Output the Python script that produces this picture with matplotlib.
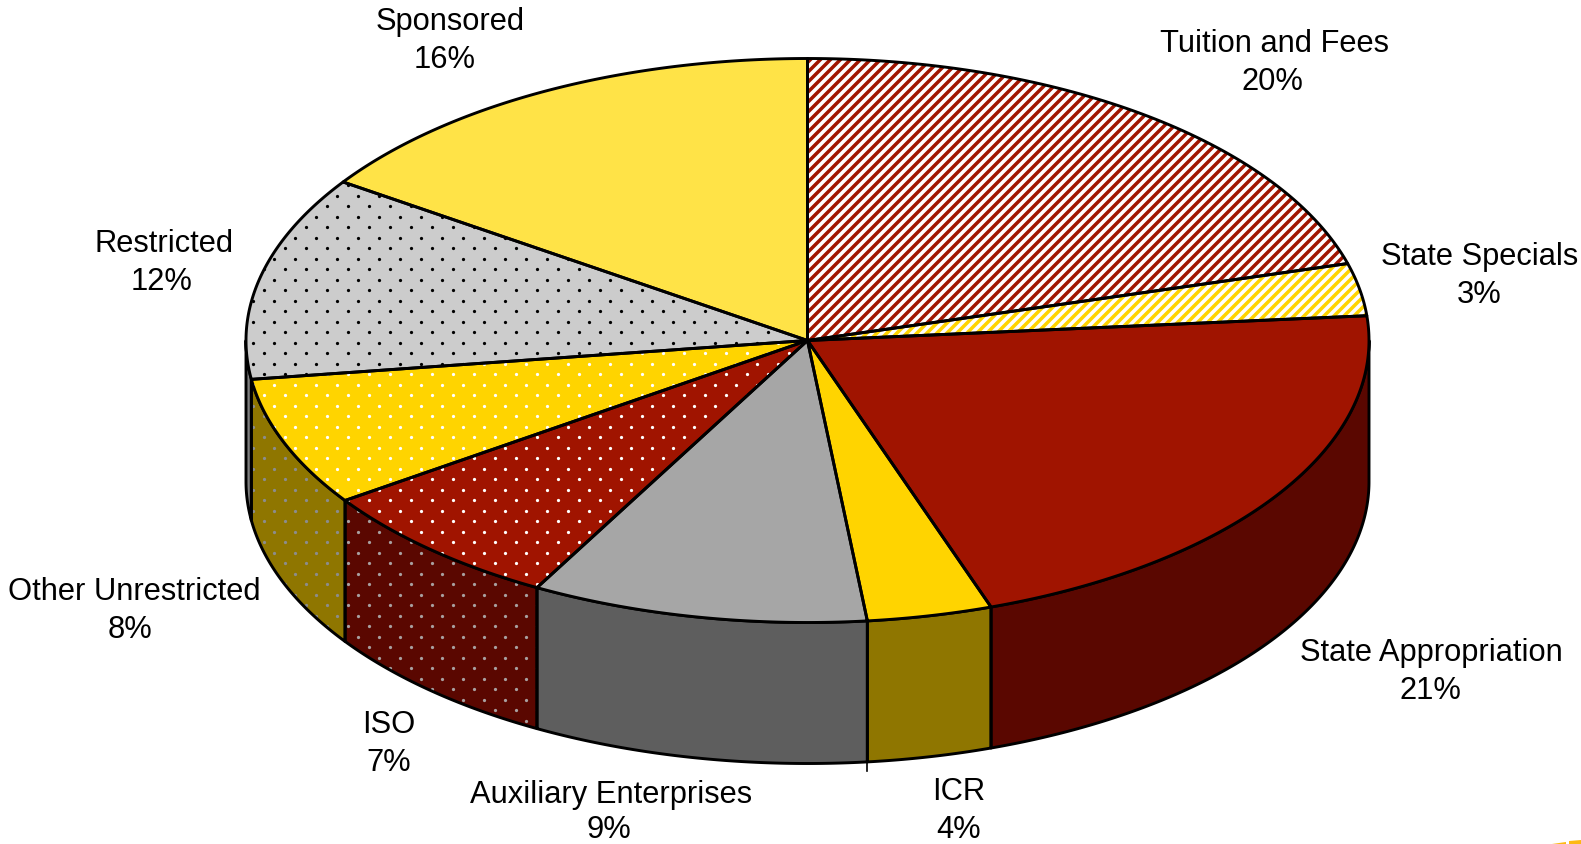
import matplotlib
matplotlib.use('Agg')
import matplotlib.pyplot as plt
import numpy as np
from matplotlib.patches import Polygon

# Slice data, clockwise from 12 o'clock
labels = ['Tuition and Fees', 'State Specials', 'State Appropriation', 'ICR',
          'Auxiliary Enterprises', 'ISO', 'Other Unrestricted', 'Restricted', 'Sponsored']
pct_labels = ['20%', '3%', '21%', '4%', '9%', '7%', '8%', '12%', '16%']
# shares as they are actually drawn in the picture
shares = [20.6, 3.0, 21.1, 3.6, 9.7, 7.4, 7.4, 11.7, 15.5]

top_colors = ['#A01400', '#FFD400', '#A01400', '#FFD400', '#A6A6A6',
              '#A01400', '#FFD400', '#CCCCCC', '#FFE347']
wall_colors = ['#5A0700', '#8F7600', '#5A0700', '#8F7600', '#5E5E5E',
               '#5A0700', '#8F7600', '#808080', '#8F7F28']
textures = ['stripes', 'stripes', None, None, None, 'dots', 'dots', 'dots', None]
dot_colors = [None, None, None, None, None, 'white', 'white', 'black', None]
wall_dot_colors = [None, None, None, None, None, '#A8A0A0', '#8C8C8C', '#202020', None]

# Label positions in pixels (line centres)
label_x = [1275, 1480, 1431, 959, 611, 389, 134, 164, 450]
label_y = [44, 257, 653, 792, 795, 725, 592, 244, 22]
pct_x = [1272, 1479, 1430, 959, 609, 389, 130, 162, 445]
pct_y = [82, 295, 691, 830, 830, 763, 630, 282, 60]

W, H = 1581, 844
DPI = 120
cx, cy, rx, ry = 807.5, 340.5, 561.5, 282
depth = 141
outline = 1.75

plt.rcParams['font.family'] = ['Liberation Sans', 'DejaVu Sans']
plt.rcParams['hatch.linewidth'] = 2.1

fig = plt.figure(figsize=(W / DPI, H / DPI), dpi=DPI)
ax = fig.add_axes([0, 0, 1, 1])
ax.set_xlim(0, W)
ax.set_ylim(H, 0)
ax.axis('off')


def arc(t0, t1, dy=0.0):
    t = np.radians(np.linspace(t0, t1, 200))
    return np.column_stack([cx + rx * np.sin(t), cy - ry * np.cos(t) + dy])


def add_dots(patch, color, zorder):
    # staggered dot lattice, same for all the dotted slices
    step = 21.0
    xs, ys = np.meshgrid(np.arange(295.3 - step * 14, W, step), np.arange(384.7 - step * 18, H, step))
    px = np.concatenate([xs.ravel(), xs.ravel() + step / 2])
    py = np.concatenate([ys.ravel(), ys.ravel() + step / 2])
    dots = ax.scatter(px, py, s=3.8, marker='o', c=color, linewidths=0, zorder=zorder)
    dots.set_clip_path(patch)


edges = np.concatenate([[0], np.cumsum(shares)]) / np.sum(shares) * 360

# Walls, only the front half of the pie shows them
for i in range(len(shares)):
    t0 = max(edges[i], 90)
    t1 = min(edges[i + 1], 270)
    if t1 <= t0:
        continue
    pts = np.vstack([arc(t0, t1), arc(t1, t0, depth)])
    wall = Polygon(pts, closed=True, facecolor=wall_colors[i], edgecolor='none', zorder=1)
    ax.add_patch(wall)
    if textures[i] == 'dots':
        add_dots(wall, wall_dot_colors[i], 2)
    ax.add_patch(Polygon(pts, closed=True, fill=False, edgecolor='black', lw=outline,
                         joinstyle='round', zorder=3))

# small overshoot of the wall divider below the rim
tail = arc(edges[4], edges[4], depth)[0]
ax.plot([tail[0], tail[0]], [tail[1], tail[1] + 9], color='black', lw=1.0, zorder=3)

# Top faces
for i in range(len(shares)):
    pts = np.vstack([[[cx, cy]], arc(edges[i], edges[i + 1])])
    if textures[i] == 'stripes':
        face = Polygon(pts, closed=True, facecolor='white', edgecolor=top_colors[i],
                       hatch='////', lw=0, zorder=4)
    else:
        face = Polygon(pts, closed=True, facecolor=top_colors[i], edgecolor='none', zorder=4)
    ax.add_patch(face)
    if textures[i] == 'dots':
        add_dots(face, dot_colors[i], 5)
    ax.add_patch(Polygon(pts, closed=True, fill=False, edgecolor='black', lw=outline,
                         joinstyle='round', zorder=6))

# Labels
for name, x, y in zip(labels, label_x, label_y):
    ax.text(x, y, name, ha='center', va='center', fontsize=18.5, color='black', zorder=7)
for pct, x, y in zip(pct_labels, pct_x, pct_y):
    ax.text(x, y, pct, ha='center', va='center', fontsize=18.5, color='black', zorder=7)

# Bit of a gold logo cut off at the bottom right corner
ax.add_patch(Polygon([[1552, 844], [1566, 842], [1566, 844]], closed=True, facecolor='#FDB913', edgecolor='none', clip_on=False))
ax.add_patch(Polygon([[1569, 841], [1581, 840], [1581, 844], [1569, 844]], closed=True, facecolor='#FDB913', edgecolor='none', clip_on=False))

fig.savefig('out.png', dpi=DPI, facecolor='white')
